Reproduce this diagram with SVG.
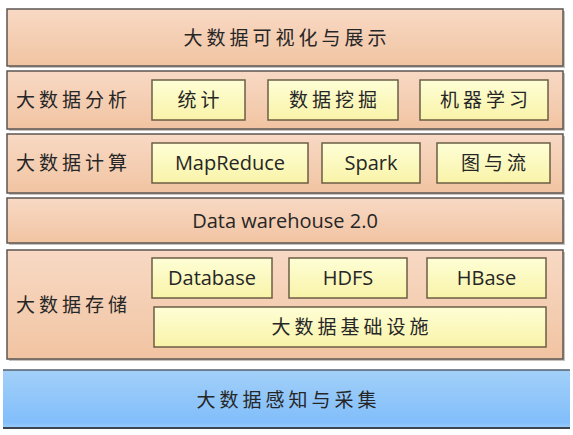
<svg xmlns="http://www.w3.org/2000/svg" width="573" height="435" viewBox="0 0 573 435">
<defs>
<linearGradient id="gOr" x1="0" y1="0" x2="0" y2="1">
<stop offset="0" stop-color="#f8d9c4"/>
<stop offset="1" stop-color="#f1c4a2"/>
</linearGradient>
<linearGradient id="gYe" x1="0" y1="0" x2="0" y2="1">
<stop offset="0" stop-color="#fefed6"/>
<stop offset="1" stop-color="#f9f3a8"/>
</linearGradient>
<linearGradient id="gBl" x1="0" y1="0" x2="0" y2="1">
<stop offset="0" stop-color="#a2d0f8"/>
<stop offset="0.9" stop-color="#82befb"/>
<stop offset="1" stop-color="#9acdf9"/>
</linearGradient>
</defs>
<style>
.shadow{fill:#c8c2be}
.layer{fill:url(#gOr);stroke:#5c5652;stroke-width:1.5}
.box{fill:url(#gYe);stroke:#6b5e45;stroke-width:1.5}
.cjk{font-family:"Noto Sans CJK SC",sans-serif;font-size:19px;font-weight:normal;fill:#262626;letter-spacing:4px}
.lat{font-family:"Open Sans","Noto Sans CJK SC",sans-serif;font-size:20px;fill:#262626}
.mid{text-anchor:middle}
</style>
<rect width="573" height="435" fill="#ffffff"/>

<g id="layer-visual">
<rect class="shadow" x="9" y="11" width="556" height="57"/>
<rect class="layer" x="7" y="9" width="556" height="57"/>
<text class="cjk mid" x="287" y="44.5">大数据可视化与展示</text>
</g>

<g id="layer-analysis">
<rect class="shadow" x="9" y="73" width="556" height="58"/>
<rect class="layer" x="7" y="71" width="556" height="58"/>
<text class="cjk" x="16" y="107">大数据分析</text>
</g>
<g id="node-tongji">
<rect class="box" x="152" y="80" width="93" height="40"/>
<text class="cjk mid" x="200.5" y="107">统计</text>
</g>
<g id="node-mining">
<rect class="box" x="268" y="80" width="130" height="40"/>
<text class="cjk mid" x="335" y="107">数据挖掘</text>
</g>
<g id="node-ml">
<rect class="box" x="420" y="80" width="128" height="40"/>
<text class="cjk mid" x="486" y="107">机器学习</text>
</g>

<g id="layer-compute">
<rect class="shadow" x="9" y="136" width="556" height="59"/>
<rect class="layer" x="7" y="134" width="556" height="59"/>
<text class="cjk" x="16" y="170">大数据计算</text>
</g>
<g id="node-mapreduce">
<rect class="box" x="152" y="143" width="156" height="40"/>
<text class="lat mid" x="230" y="170">MapReduce</text>
</g>
<g id="node-spark">
<rect class="box" x="322" y="143" width="98" height="40"/>
<text class="lat mid" x="371" y="170">Spark</text>
</g>
<g id="node-graph">
<rect class="box" x="437" y="143" width="113" height="40"/>
<text class="cjk mid" x="495.5" y="170">图与流</text>
</g>

<g id="layer-dw">
<rect class="shadow" x="9" y="200" width="556" height="45"/>
<rect class="layer" x="7" y="198" width="556" height="45"/>
<text class="lat mid" x="285" y="228">Data warehouse 2.0</text>
</g>

<g id="layer-storage">
<rect class="shadow" x="9" y="252" width="556" height="109"/>
<rect class="layer" x="7" y="250" width="556" height="109"/>
<text class="cjk" x="16" y="312">大数据存储</text>
</g>
<g id="node-database">
<rect class="box" x="152" y="258" width="120" height="40"/>
<text class="lat mid" x="212" y="285">Database</text>
</g>
<g id="node-hdfs">
<rect class="box" x="289" y="258" width="118" height="40"/>
<text class="lat mid" x="348" y="285">HDFS</text>
</g>
<g id="node-hbase">
<rect class="box" x="427" y="258" width="119" height="40"/>
<text class="lat mid" x="486.5" y="285">HBase</text>
</g>
<g id="node-infra">
<rect class="box" x="154" y="307" width="392" height="40"/>
<text class="cjk mid" x="352" y="334">大数据基础设施</text>
</g>

<g id="layer-collect">
<rect x="3" y="370" width="567" height="58" fill="url(#gBl)"/>
<line x1="3" y1="370" x2="570" y2="370" stroke="#55606e" stroke-width="1.5"/>
<line x1="3" y1="428" x2="570" y2="428" stroke="#3c4450" stroke-width="2"/>
<text class="cjk mid" x="288.5" y="406.5">大数据感知与采集</text>
</g>

<g id="connectors"></g>
</svg>
